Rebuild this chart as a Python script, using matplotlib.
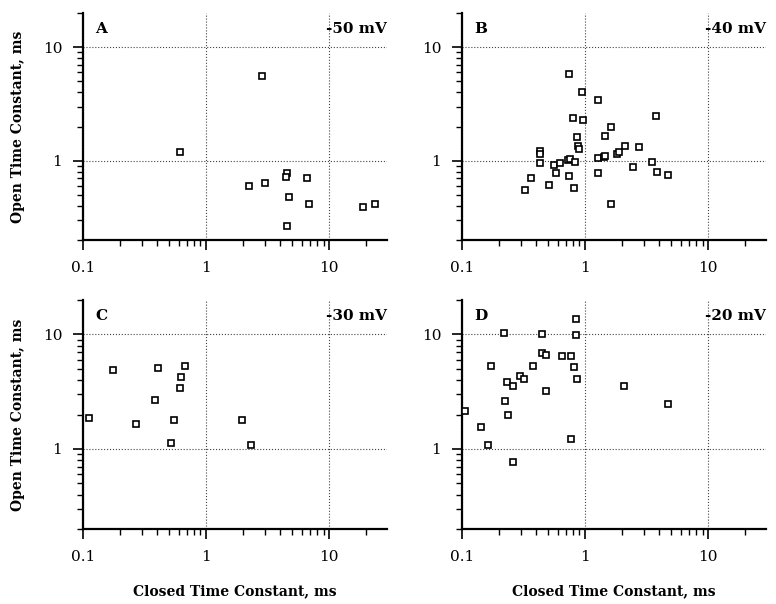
import numpy as np
import matplotlib
matplotlib.use("Agg")
import matplotlib.pyplot as plt
from matplotlib.ticker import LogLocator, FixedLocator, FuncFormatter, NullFormatter

plt.rcParams.update({
    "font.family": "DejaVu Serif",
    "font.size": 11,
})

# closed / open time constants (ms)
closed_A = [2.87, 0.616, 2.24, 3.0, 4.52, 4.5, 6.56, 4.72, 6.81, 4.57, 18.8, 23.5]
open_A = [5.54, 1.20, 0.593, 0.634, 0.778, 0.717, 0.703, 0.477, 0.416, 0.268, 0.392, 0.413]

closed_B = [0.743, 0.94, 1.27, 3.80, 0.805, 0.963, 1.61, 1.46, 0.867, 0.884, 0.90, 2.12, 2.72,
            1.83, 1.90, 0.433, 0.433, 0.43, 0.72, 0.756, 0.83, 1.28, 1.42, 1.44, 3.48, 0.558,
            0.62, 2.44, 1.27, 3.82, 4.69, 0.583, 0.747, 0.361, 0.505, 0.815, 0.325, 1.63]
open_B = [5.75, 4.03, 3.43, 2.50, 2.40, 2.29, 1.99, 1.66, 1.60, 1.345, 1.27, 1.36, 1.327,
          1.152, 1.183, 1.207, 1.144, 0.96, 1.02, 1.034, 0.973, 1.063, 1.084, 1.09, 0.98, 0.91,
          0.947, 0.874, 0.785, 0.80, 0.749, 0.774, 0.739, 0.704, 0.612, 0.576, 0.549, 0.414]

closed_C = [0.1125, 0.174, 0.409, 0.668, 0.628, 0.612, 0.382, 0.27, 0.544, 0.515, 1.94, 2.30]
open_C = [1.85, 4.89, 5.05, 5.26, 4.27, 3.43, 2.68, 1.64, 1.80, 1.128, 1.80, 1.083]

closed_D = [0.84, 0.219, 0.445, 0.84, 0.443, 0.483, 0.655, 0.765, 0.81, 0.172, 0.376, 0.861,
            0.294, 0.316, 0.233, 0.262, 2.07, 0.483, 4.71, 0.225, 0.105, 0.236, 0.142, 0.765,
            0.164, 0.262]
open_D = [13.7, 10.4, 10.13, 9.95, 6.83, 6.60, 6.43, 6.48, 5.22, 5.26, 5.33, 4.05,
          4.36, 4.05, 3.87, 3.54, 3.52, 3.18, 2.45, 2.60, 2.16, 1.97, 1.545, 1.214,
          1.083, 0.775]

letters = ["A", "B", "C", "D"]
voltages = ["-50 mV", "-40 mV", "-30 mV", "-20 mV"]
closed = [closed_A, closed_B, closed_C, closed_D]
opened = [open_A, open_B, open_C, open_D]

W, H = 776, 604
fig = plt.figure(figsize=(W / 100, H / 100), dpi=100)

# axes boxes in pixels: left, right, top, bottom
boxes = [(83, 387, 13, 240), (462, 766, 13, 240),
         (83, 387, 300, 529), (462, 766, 300, 529)]

fmt = FuncFormatter(lambda v, p: "%g" % v)

for i in range(4):
    l, r, t, b = boxes[i]
    ax = fig.add_axes([l / W, 1 - b / H, (r - l) / W, (b - t) / H])
    ax.plot(closed[i], opened[i], "s", ms=4.2, mfc="white", mec="black", mew=1.2,
            clip_on=False, zorder=3)
    ax.set_xscale("log")
    ax.set_yscale("log")
    ax.set_xlim(0.1, 29.5)
    ax.set_ylim(0.2, 20)
    ax.xaxis.set_major_locator(FixedLocator([0.1, 1, 10]))
    ax.yaxis.set_major_locator(FixedLocator([1, 10]))
    ax.xaxis.set_minor_locator(LogLocator(base=10, subs=np.arange(2, 10)))
    ax.yaxis.set_minor_locator(LogLocator(base=10, subs=np.arange(2, 10)))
    ax.xaxis.set_major_formatter(fmt)
    ax.yaxis.set_major_formatter(fmt)
    ax.xaxis.set_minor_formatter(NullFormatter())
    ax.yaxis.set_minor_formatter(NullFormatter())
    ax.spines["top"].set_visible(False)
    ax.spines["right"].set_visible(False)
    ax.spines["left"].set_linewidth(1.6)
    ax.spines["bottom"].set_linewidth(1.6)
    ax.tick_params(which="major", direction="out", length=7, width=1.2, labelsize=11, pad=8)
    ax.tick_params(which="minor", direction="out", length=4, width=1.0)
    ax.grid(True, which="major", linestyle=":", color="#444444", linewidth=0.8)
    ax.set_axisbelow(True)
    ax.text(0.04, 0.93, letters[i], transform=ax.transAxes, fontsize=11,
            fontweight="bold", ha="left", va="center")
    ax.text(1.0, 0.93, voltages[i], transform=ax.transAxes, fontsize=11,
            fontweight="bold", ha="right", va="center")
    if i % 2 == 0:
        ax.set_ylabel("Open Time Constant, ms", fontsize=10, fontweight="bold", labelpad=13)
    if i >= 2:
        ax.set_xlabel("Closed Time Constant, ms", fontsize=10, fontweight="bold", labelpad=15)

fig.savefig("out.png", dpi=100)
